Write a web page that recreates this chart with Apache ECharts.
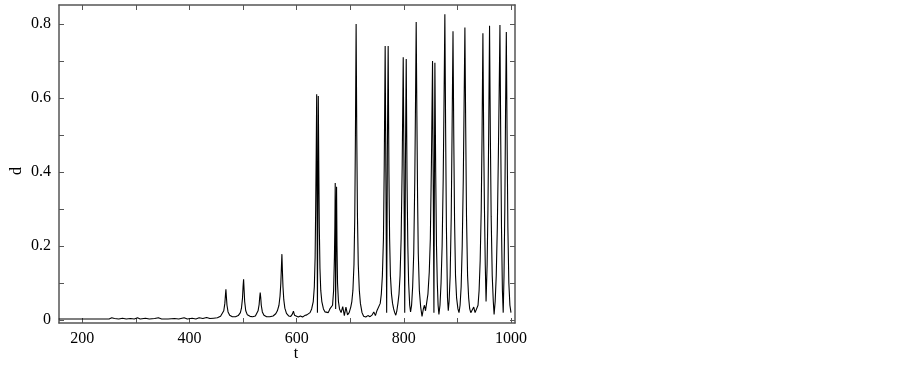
<!DOCTYPE html>
<html>
<head>
<meta charset="utf-8">
<script src="https://cdn.jsdelivr.net/npm/echarts@6/dist/echarts.min.js"></script>
<style>
html,body{margin:0;padding:0;background:#fff;}
#chart{width:902px;height:368px;}
</style>
</head>
<body>
<div id="chart"></div>
<script>
// time values (t)
const tValues = [
156,170,190,210,230,250,255,260,268,275,282,290,297,303,308,318,325,335,342,348,360,372,380,390,396,405,412,418,425,432,438,445,452,458,
461,464,466,467,468,469,470,472,475,480,486,491,495,
497,499,500,501,502,503,505,508,513,518,523,526,
528,530,531,532,533,534,536,539,544,550,556,561,
564,567,569,570.5,571.5,572.5,573.5,574.5,576,578,581,585,589,592,594,596,599,603,607,611,615,619,622,625,
628,631,633,634.5,635.5,636.5,637.4,638.8,640.4,641.3,642.3,643.5,645,647,650,653,656,659,662,665,667,669,
670.5,671.3,672,672.8,673.6,674.5,675.3,676.3,678,680,683,686,689,692,695,698,701,
703,705,707,708.5,709.7,711,712.2,713.5,715,717,719,722,725,729,733,737,741,744,747,750,753,756,
758,760,762,763.5,765.2,766.5,768,769.3,770.8,772.2,773.5,775,777,779,781,783,785,787,789,791,793,795,797,
798.9,800.3,801.7,803,804.5,806,807.5,809,811,812.6,814.5,816.5,818.5,820.5,821.8,823.1,824.4,825.7,827,829,831.5,834,836.5,838.5,840.5,842.5,845,847.5,849.5,851.5,
853.6,855,856.2,857,858,859.5,861,862.5,864,865.5,867.5,869.5,871.5,873.5,875,876.6,878,879.5,881.5,883,884.5,886.5,888.5,890,891.8,893.2,894.7,896.5,898.5,901,903,905,907,909,911,912.5,914,915.5,917,919,921,923,925,928,930.5,933,936,938.5,940.5,942.5,944.5,946,947.6,949,950.5,
952,953.5,955.5,957,958.5,960,961.5,963,965,967,968.5,970.5,972.5,974.5,976.5,978,979.4,980.8,982.3,984,985.5,987,988.5,989.8,991.3,992.7,994.2,996,998,1000
];
// signal values (d)
const dValues = [
0.003,0.003,0.003,0.003,0.003,0.003,0.006,0.004,0.003,0.005,0.003,0.004,0.003,0.006,0.003,0.005,0.003,0.004,0.006,0.003,0.003,0.004,0.003,0.006,0.003,0.005,0.003,0.006,0.004,0.007,0.004,0.005,0.006,0.01,
0.015,0.025,0.045,0.065,0.083,0.06,0.04,0.022,0.013,0.009,0.009,0.012,0.02,
0.032,0.06,0.09,0.11,0.08,0.05,0.025,0.014,0.01,0.009,0.011,0.016,
0.025,0.042,0.06,0.074,0.06,0.04,0.022,0.013,0.009,0.009,0.011,0.017,
0.025,0.04,0.065,0.1,0.14,0.178,0.13,0.09,0.055,0.032,0.018,0.011,0.01,0.016,0.024,0.013,0.009,0.008,0.011,0.008,0.012,0.014,0.018,0.02,
0.03,0.05,0.09,0.17,0.3,0.45,0.61,0.02,0.605,0.42,0.25,0.14,0.08,0.05,0.03,0.022,0.018,0.02,0.03,0.025,0.04,0.08,
0.17,0.25,0.37,0.03,0.25,0.36,0.2,0.1,0.05,0.03,0.02,0.036,0.012,0.035,0.014,0.02,0.035,
0.05,0.08,0.15,0.28,0.5,0.8,0.5,0.28,0.15,0.08,0.045,0.02,0.01,0.008,0.012,0.009,0.014,0.022,0.012,0.026,0.03,0.045,
0.07,0.12,0.22,0.42,0.74,0.4,0.02,0.45,0.74,0.4,0.22,0.12,0.07,0.045,0.03,0.02,0.013,0.025,0.045,0.07,0.12,0.22,0.42,
0.71,0.4,0.02,0.42,0.705,0.38,0.2,0.1,0.04,0.022,0.04,0.09,0.18,0.38,0.58,0.805,0.55,0.33,0.18,0.08,0.035,0.01,0.03,0.04,0.025,0.045,0.07,0.13,0.22,0.42,
0.70,0.35,0.02,0.35,0.695,0.4,0.2,0.1,0.04,0.015,0.04,0.1,0.2,0.38,0.58,0.826,0.52,0.25,0.06,0.025,0.05,0.12,0.28,0.5,0.78,0.5,0.27,0.12,0.06,0.03,0.02,0.04,0.09,0.2,0.38,0.58,0.79,0.52,0.28,0.12,0.06,0.03,0.02,0.025,0.035,0.02,0.025,0.04,0.08,0.16,0.3,0.5,0.775,0.5,0.3,
0.15,0.05,0.15,0.3,0.52,0.795,0.5,0.28,0.12,0.05,0.015,0.05,0.12,0.25,0.45,0.62,0.797,0.5,0.25,0.08,0.02,0.12,0.3,0.55,0.778,0.5,0.25,0.1,0.04,0.02
];
// ticks and labels
const xTicks = [200,300,400,500,600,700,800,900,1000];
const xLabels = [200,400,600,800,1000];
const yTicks = [0,0.1,0.2,0.3,0.4,0.5,0.6,0.7,0.8];
const yLabels = [0,0.2,0.4,0.6,0.8];

const seriesData = tValues.map((t,i)=>[t,dValues[i]]);
const axisColor = '#555';
const font = 'Liberation Serif';
const xMin = 156.5, xMax = 1007.5, yMin = -0.008, yMax = 0.851;

function xAx(pos, labels){
  return {
    type:'value', position:pos, min:xMin, max:xMax,
    axisLine:{show:true, onZero:false, lineStyle:{color:axisColor, width:1.5}},
    axisTick:{show:true, inside:true, length:5, customValues:xTicks, lineStyle:{color:axisColor, width:1}},
    axisLabel:{show:labels, customValues:xLabels, fontFamily:font, fontSize:16, color:'#000', margin:8,
      formatter:v=>String(Math.round(v))},
    splitLine:{show:false},
    name: labels ? 't' : '',
    nameLocation:'middle', nameGap:23, nameMoveOverlap:false,
    nameTextStyle:{fontFamily:font, fontSize:16, color:'#000', padding:[0,0,0,18]}
  };
}
function yAx(pos, labels){
  return {
    type:'value', position:pos, min:yMin, max:yMax,
    axisLine:{show:true, onZero:false, lineStyle:{color:axisColor, width:1.5}},
    axisTick:{show:true, inside:true, length:5, customValues:yTicks, lineStyle:{color:axisColor, width:1}},
    axisLabel:{show:labels, customValues:yLabels, fontFamily:font, fontSize:16, color:'#000', margin:8,
      formatter:v=>String(Math.round(v*10)/10)},
    splitLine:{show:false},
    name: labels ? 'd' : '',
    nameLocation:'middle', nameGap:34, nameRotate:90, nameMoveOverlap:false,
    nameTextStyle:{fontFamily:font, fontSize:16, color:'#000', padding:[0,14,0,0]}
  };
}

const chart = echarts.init(document.getElementById('chart'), null, {renderer:'canvas'});
chart.setOption({
  animation:false,
  backgroundColor:'#fff',
  grid:{left:59, top:5, right:387, bottom:45, containLabel:false, outerBoundsMode:'none'},
  xAxis:[xAx('bottom', true), xAx('top', false)],
  yAxis:[yAx('left', true), yAx('right', false)],
  series:[{
    type:'line', xAxisIndex:0, yAxisIndex:0,
    data:seriesData, showSymbol:false, symbol:'none',
    lineStyle:{color:'#000', width:1.1}, smooth:false
  }]
});
</script>
</body>
</html>
